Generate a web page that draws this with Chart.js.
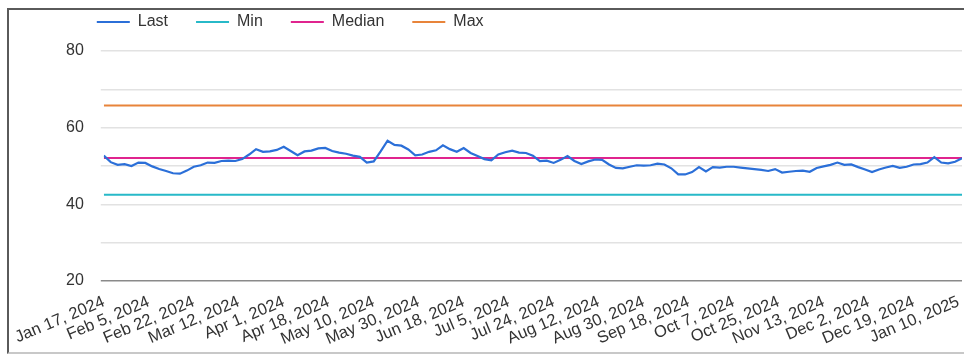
<!DOCTYPE html>
<html>
<head>
<meta charset="utf-8">
<script src="https://cdn.jsdelivr.net/npm/chart.js@4.4.1/dist/chart.umd.min.js"></script>
<style>
  html, body { margin: 0; padding: 0; background: #fff; }
  #wrap { position: relative; width: 964px; height: 354px; }
  #frame { position: absolute; left: 7px; top: 8px; right: -4px; bottom: 0; border-left: 2px solid #5a5a5a; border-top: 2px solid #5a5a5a; border-bottom: 2px solid #c8c8c8; pointer-events: none; }
</style>
</head>
<body>
<div id="wrap">
  <canvas id="chart" width="964" height="354"></canvas>
  <div id="frame"></div>
</div>
<script>
// Data
const tickLabels = ['Jan 17, 2024', 'Feb 5, 2024', 'Feb 22, 2024', 'Mar 12, 2024', 'Apr 1, 2024', 'Apr 18, 2024',
    'May 10, 2024', 'May 30, 2024', 'Jun 18, 2024', 'Jul 5, 2024', 'Jul 24, 2024', 'Aug 12, 2024', 'Aug 30, 2024',
    'Sep 18, 2024', 'Oct 7, 2024', 'Oct 25, 2024', 'Nov 13, 2024', 'Dec 2, 2024', 'Dec 19, 2024', 'Jan 10, 2025'];

// one value every two trading days
const lastValues = [
    52.7, 51.0, 50.3, 50.5, 50.0, 50.9, 50.8, 49.9, 49.2, 48.7,
    48.1, 48.0, 48.8, 49.8, 50.2, 50.9, 50.8, 51.3, 51.4, 51.3,
    51.8, 53.0, 54.4, 53.7, 53.8, 54.2, 55.0, 53.9, 52.8, 53.8,
    54.0, 54.6, 54.7, 53.9, 53.5, 53.2, 52.7, 52.4, 50.9, 51.2,
    53.8, 56.6, 55.5, 55.3, 54.3, 52.8, 53.0, 53.7, 54.1, 55.4,
    54.4, 53.7, 54.7, 53.4, 52.6, 51.8, 51.5, 53.0, 53.6, 54.0,
    53.5, 53.4, 52.7, 51.3, 51.4, 50.8, 51.6, 52.6, 51.3, 50.5,
    51.2, 51.7, 51.6, 50.4, 49.5, 49.4, 49.8, 50.2, 50.1, 50.2,
    50.6, 50.4, 49.4, 47.8, 47.8, 48.4, 49.7, 48.6, 49.7, 49.6,
    49.8, 49.8, 49.6, 49.4, 49.2, 49.0, 48.7, 49.2, 48.3, 48.5,
    48.7, 48.8, 48.5, 49.5, 49.9, 50.3, 50.9, 50.3, 50.4, 49.7,
    49.1, 48.4, 49.1, 49.6, 50.0, 49.5, 49.8, 50.4, 50.5, 50.9,
    52.3, 50.9, 50.7, 51.1, 52.0
];

const minValue = 42.5;
const medianValue = 52.1;
const maxValue = 65.8;

const dayStep = 2;
const labelEvery = 13;
const lastDay = (lastValues.length - 1) * dayStep;

const lastPoints = lastValues.map((v, i) => ({x: i * dayStep, y: v}));
const flatLine = v => [{x: 0, y: v}, {x: lastDay, y: v}];

// legend sits left, not centred
const legendOffset = {
    id: 'legendOffset',
    afterLayout(chart) {
        const lg = chart.legend;
        const pad = lg.options.labels.padding;
        lg.left = chart.chartArea.left - 7 - pad;
        lg.top = 14 - pad;
    }
};

const font = {family: '"Liberation Sans", Arial, sans-serif', size: 16};

new Chart(document.getElementById('chart'), {
    type: 'line',
    data: {
        datasets: [
            {label: 'Last', data: lastPoints, borderColor: '#2b6fd8', borderWidth: 2.2},
            {label: 'Min', data: flatLine(minValue), borderColor: '#27b9c8', borderWidth: 2},
            {label: 'Median', data: flatLine(medianValue), borderColor: '#e0248e', borderWidth: 2},
            {label: 'Max', data: flatLine(maxValue), borderColor: '#e8843a', borderWidth: 2}
        ]
    },
    options: {
        responsive: false,
        animation: false,
        elements: {point: {radius: 0}, line: {tension: 0}},
        layout: {padding: {top: 13, left: 49, right: 2, bottom: 3}},
        plugins: {
            tooltip: {enabled: false},
            legend: {
                position: 'top',
                align: 'start',
                maxHeight: 38,
                labels: {
                    usePointStyle: true,
                    pointStyle: 'line',
                    pointStyleWidth: 33,
                    padding: 28,
                    color: '#333',
                    font: font
                }
            }
        },
        scales: {
            x: {
                type: 'linear',
                min: 0,
                max: lastDay,
                afterBuildTicks: axis => {
                    axis.ticks = tickLabels.map((_, i) => ({value: i * labelEvery}));
                },
                afterFit: axis => {
                    axis.paddingLeft = 0;
                    axis.paddingRight = 0;
                    axis.height = 70;
                },
                grid: {display: false},
                border: {display: false},
                ticks: {
                    autoSkip: false,
                    minRotation: 23,
                    maxRotation: 23,
                    padding: 3,
                    color: '#333',
                    font: {family: font.family, size: 16.5},
                    callback: (v, i) => tickLabels[i]
                }
            },
            y: {
                min: 20,
                max: 80,
                border: {display: false},
                grid: {
                    tickLength: 3,
                    lineWidth: 1.5,
                    color: c => c.tick && c.tick.value === 20 ? '#8a8a8a' : '#e2e2e2'
                },
                ticks: {
                    stepSize: 10,
                    padding: 17,
                    color: '#333',
                    font: font,
                    callback: v => v % 20 === 0 ? v : ''
                }
            }
        }
    },
    plugins: [legendOffset]
});
</script>
</body>
</html>
